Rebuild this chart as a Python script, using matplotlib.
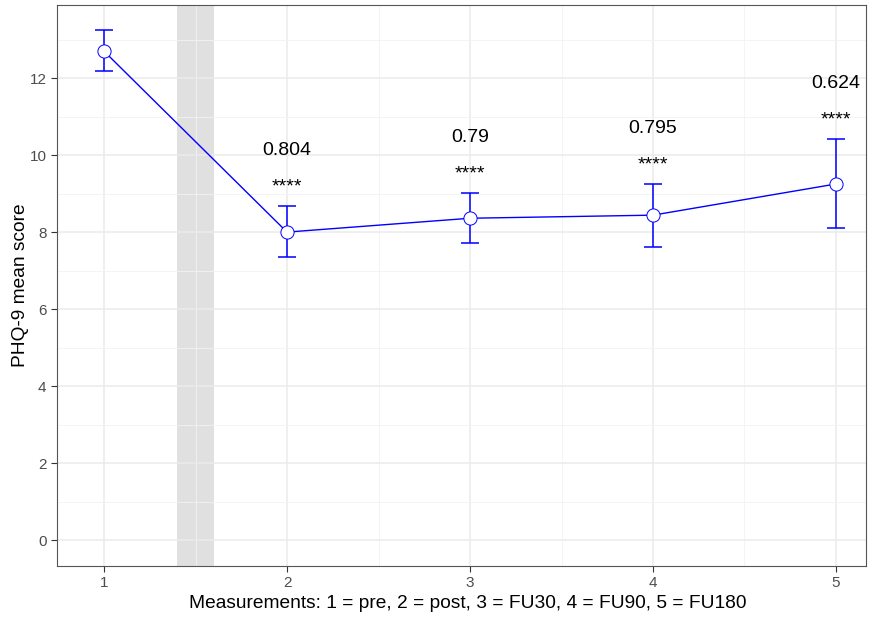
import matplotlib
matplotlib.use("Agg")
import matplotlib.pyplot as plt
from matplotlib.ticker import MultipleLocator

plt.rcParams['font.family'] = ['Liberation Sans', 'DejaVu Sans']

# data
measurements = [1, 2, 3, 4, 5]
mean_score = [12.70, 8.00, 8.36, 8.44, 9.25]
ci_low = [12.18, 7.35, 7.71, 7.61, 8.10]
ci_high = [13.25, 8.68, 9.01, 9.25, 10.42]
effect_sizes = ["", "0.804", "0.79", "0.795", "0.624"]
sig_labels = ["", "****", "****", "****", "****"]

fig = plt.figure(figsize=(8.75, 6.18), dpi=100)
ax = fig.add_axes([57/875, 1 - 566/618, (866-57)/875, (566-5)/618])

# grey band between pre and post
ax.axvspan(1.4, 1.6, color='#e0e0e0', lw=0, zorder=0.5)

err_lo = [m - l for m, l in zip(mean_score, ci_low)]
err_hi = [h - m for m, h in zip(mean_score, ci_high)]
ax.errorbar(measurements, mean_score, yerr=[err_lo, err_hi], color='blue',
            lw=1, capsize=6.5, capthick=1.1, elinewidth=1.1, zorder=2)
ax.plot(measurements, mean_score, 'o', ms=9.5, mfc='white', mec='blue',
        mew=0.7, zorder=3)

for x, hi, es, sig in zip(measurements, ci_high, effect_sizes, sig_labels):
    if sig:
        ax.text(x, hi + 0.5, sig, ha='center', va='center', fontsize=14)
    if es:
        ax.text(x, hi + 1.45, es, ha='center', va='center', fontsize=14)

ax.set_xlim(0.743, 5.164)
ax.set_ylim(-0.675, 13.9)
ax.set_xticks(measurements)
ax.yaxis.set_major_locator(MultipleLocator(2))
ax.yaxis.set_minor_locator(MultipleLocator(1))
ax.xaxis.set_minor_locator(MultipleLocator(0.5))
ax.grid(which='major', color='#ebebeb', lw=1.1, zorder=0)
ax.grid(which='minor', color='#f3f3f3', lw=0.6, zorder=0)
ax.set_axisbelow(True)
ax.tick_params(which='minor', length=0)
ax.tick_params(which='major', length=4, color='#333333', labelsize=11,
               labelcolor='#4d4d4d', width=0.8)
for s in ax.spines.values():
    s.set_color('#555555')
    s.set_linewidth(0.8)

ax.set_xlabel('Measurements: 1 = pre, 2 = post, 3 = FU30, 4 = FU90, 5 = FU180',
              fontsize=13.8)
ax.set_ylabel('PHQ-9 mean score', fontsize=13.8)
ax.xaxis.set_label_coords(0.508, -0.052)
ax.yaxis.set_label_coords(-0.035, 0.5)

fig.savefig('out.png', dpi=100)
